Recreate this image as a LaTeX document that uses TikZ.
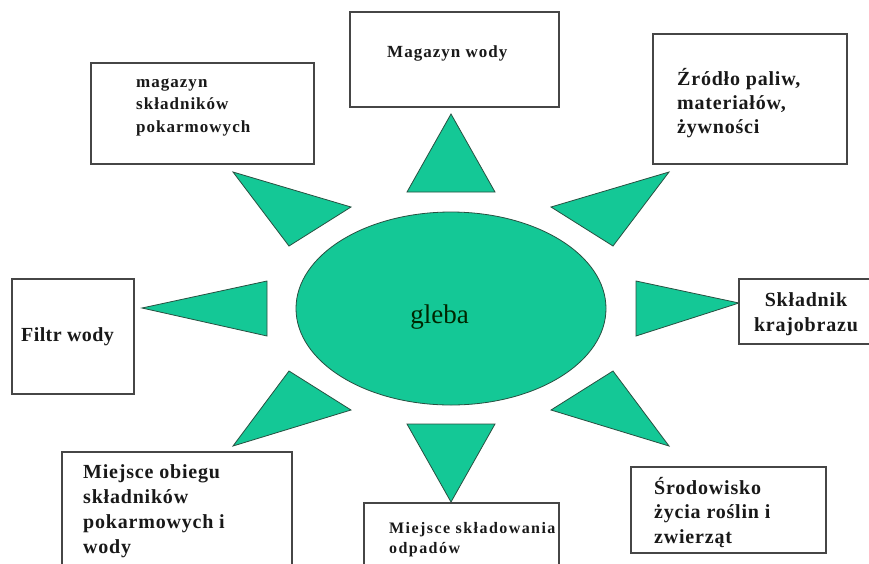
\documentclass[tikz,border=0pt]{standalone}
\usepackage{fontspec}
\setmainfont{Liberation Serif}
\newfontfamily\boxfontA[LetterSpace=6]{Liberation Serif}
\newfontfamily\boxfontB[LetterSpace=4]{Liberation Serif}
\newfontfamily\boxfontC[LetterSpace=9]{Liberation Serif}
\newfontfamily\boxfontD[LetterSpace=2]{Liberation Serif}
\usetikzlibrary{shapes.geometric}
\definecolor{soilgreen}{RGB}{20,200,150}
\definecolor{rayedge}{RGB}{40,80,65}
\definecolor{boxedge}{RGB}{70,70,70}
\tikzset{
  ray/.style={fill=soilgreen, draw=rayedge, line width=0.8pt, line join=miter},
  infobox/.style={draw=boxedge, line width=1.1pt, fill=white},
  lbl/.style={inner sep=0pt, anchor=base west, align=left, text=black!90},
}
\begin{document}
\begin{tikzpicture}[x=1pt,y=-1pt]
\useasboundingbox (0,0) rectangle (869,563);
\fill[white] (0,0) rectangle (869,563);

% central ellipse
\node[ellipse, fill=soilgreen, draw=rayedge, line width=0.8pt,
      minimum width=310pt, minimum height=193pt, inner sep=0pt] (soil) at (451,308.5) {};
\node[inner sep=0pt, anchor=base, text=black!85!green,
      font=\fontsize{27}{30}\selectfont] (soiltext) at (439.5,323) {gleba};

% rays
\draw[ray] (233,172) -- (351,207) -- (289,246) -- cycle;
\draw[ray] (407,192) -- (495,192) -- (451,114) -- cycle;
\draw[ray] (551,207) -- (669,172) -- (613,246) -- cycle;
\draw[ray] (142,308) -- (267,281) -- (267,336) -- cycle;
\draw[ray] (636,281) -- (636,336) -- (739,303) -- cycle;
\draw[ray] (289,371) -- (351,410) -- (233,446) -- cycle;
\draw[ray] (407,424) -- (495,424) -- (451,502) -- cycle;
\draw[ray] (613,371) -- (551,410) -- (669,446) -- cycle;

% boxes
\draw[infobox] (91,63) rectangle (314,164);
\draw[infobox] (350,12) rectangle (559,107);
\draw[infobox] (653,34) rectangle (847,164);
\draw[infobox] (12,279) rectangle (134,394);
\draw[infobox] (739,279) rectangle (870,344);
\draw[infobox] (62,452) rectangle (292,580);
\draw[infobox] (364,503) rectangle (559,580);
\draw[infobox] (631,467) rectangle (826,553);

% labels (anchor = baseline of the last line)
\node[lbl, font=\fontsize{17}{22.5}\selectfont\boxfontA\bfseries] (t1) at (136,132)
  {magazyn\\składników\\pokarmowych};
\node[lbl, font=\fontsize{17}{22.5}\selectfont\boxfontA\bfseries] (t2) at (387,57)
  {Magazyn wody};
\node[lbl, font=\fontsize{20}{24}\selectfont\boxfontB\bfseries] (t3) at (677,133)
  {Źródło paliw,\\materiałów,\\żywności};
\node[lbl, font=\fontsize{20}{24}\selectfont\boxfontD\bfseries] (t4) at (21,341)
  {Filtr wody};
\node[lbl, align=center, anchor=base, font=\fontsize{20}{25}\selectfont\boxfontB\bfseries] (t5) at (806,331)
  {Składnik\\krajobrazu};
\node[lbl, font=\fontsize{20}{25}\selectfont\boxfontB\bfseries] (t6) at (83,553)
  {Miejsce obiegu\\składników\\pokarmowych i\\wody};
\node[lbl, font=\fontsize{16}{20}\selectfont\boxfontC\bfseries] (t7) at (389,553)
  {Miejsce składowania\\odpadów};
\node[lbl, font=\fontsize{20}{24.5}\selectfont\boxfontB\bfseries] (t8) at (654,543)
  {Środowisko\\życia roślin i\\zwierząt};
\end{tikzpicture}
\end{document}
